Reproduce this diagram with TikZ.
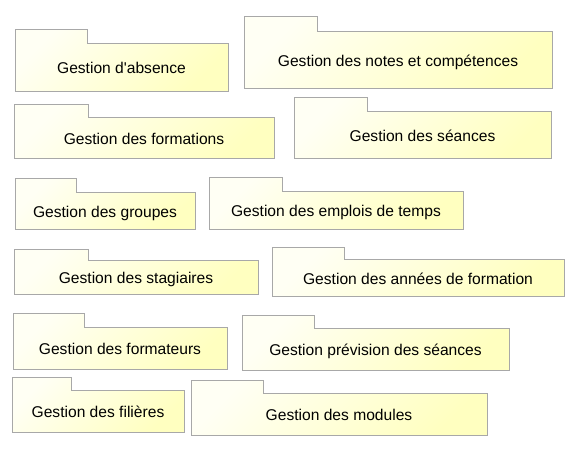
\documentclass[tikz,border=0pt]{standalone}
\usepackage{fontspec}
\setmainfont{Liberation Sans}
\usepackage{tikz}
\usetikzlibrary{positioning}
\definecolor{folderline}{HTML}{A8A8A8}
\definecolor{folderlight}{HTML}{FFFFF4}
\definecolor{folderdeep}{HTML}{FFFFC0}

\begin{document}
\begin{tikzpicture}[x=1pt,y=-1pt]

%--------------------------------------------------
% STYLES
%--------------------------------------------------

\tikzset{
folder/.style={
draw=folderline,
line width=0.9pt,
left color=folderlight,
right color=folderdeep,
shading angle=45
},
foldertext/.style={
font=\fontsize{15.6}{18}\selectfont,
text height=11.2pt,
text depth=0pt,
inner sep=0pt
}
}

%--------------------------------------------------
% FRAME
%--------------------------------------------------

\useasboundingbox[fill=white] (0,0) rectangle (575,448);

%--------------------------------------------------
% LEFT COLUMN
%--------------------------------------------------

\draw[folder] (15,91)--(15,29)--(87,29)--(87,43)--(228,43)--(228,91)--cycle;
\node[foldertext] (absence) at (121.5,68) {Gestion d\textquotesingle absence};

\draw[folder] (14,158)--(14,104)--(88,104)--(88,117)--(274,117)--(274,158)--cycle;
\node[foldertext] (formations) at (144,138.5) {Gestion des formations};

\draw[folder] (15,229)--(15,178)--(76,178)--(76,192)--(195,192)--(195,229)--cycle;
\node[foldertext] (groupes) at (105,211.5) {Gestion des groupes};

\draw[folder] (14,294)--(14,249)--(88,249)--(88,260)--(258,260)--(258,294)--cycle;
\node[foldertext] (stagiaires) at (136,278) {Gestion des stagiaires};

\draw[folder] (13,369)--(13,313)--(84,313)--(84,327)--(227,327)--(227,369)--cycle;
\node[foldertext] (formateurs) at (120,349) {Gestion des formateurs};

\draw[folder] (12,432)--(12,377)--(71,377)--(71,390)--(184,390)--(184,432)--cycle;
\node[foldertext] (filieres) at (98,412) {Gestion des filières};

%--------------------------------------------------
% RIGHT COLUMN
%--------------------------------------------------

\draw[folder] (244,88)--(244,16)--(317,16)--(317,31)--(552,31)--(552,88)--cycle;
\node[foldertext] (notes) at (398,60.5) {Gestion des notes et compétences};

\draw[folder] (294,158)--(294,97)--(367,97)--(367,111)--(551,111)--(551,158)--cycle;
\node[foldertext] (seances) at (422.5,135.5) {Gestion des séances};

\draw[folder] (209,229)--(209,177)--(282,177)--(282,191)--(463,191)--(463,229)--cycle;
\node[foldertext] (emplois) at (336,211) {Gestion des emplois de temps};

\draw[folder] (272,296)--(272,247)--(344,247)--(344,259)--(564,259)--(564,296)--cycle;
\node[foldertext] (annees) at (418,278.5) {Gestion des années de formation};

\draw[folder] (242,370)--(242,315)--(314,315)--(314,328)--(509,328)--(509,370)--cycle;
\node[foldertext] (prevision) at (375.5,350) {Gestion prévision des séances};

\draw[folder] (191,435)--(191,380)--(263,380)--(263,393)--(487,393)--(487,435)--cycle;
\node[foldertext] (modules) at (339,415) {Gestion des modules};

\end{tikzpicture}
\end{document}
